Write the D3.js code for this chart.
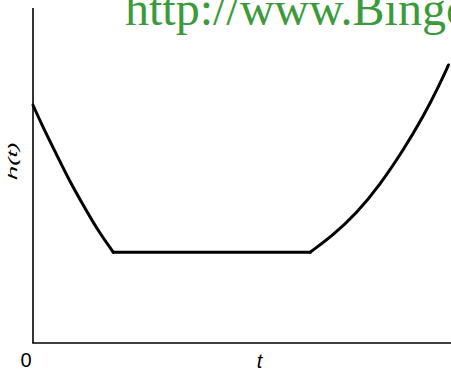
<!DOCTYPE html>
<html>
<head>
<meta charset="utf-8">
<script src="https://cdn.jsdelivr.net/npm/d3@7"></script>
<style>
  html, body { margin: 0; padding: 0; background: #fff; overflow: hidden; }
  svg { display: block; }
</style>
</head>
<body>
<script>
// bathtub curve (t and h in arbitrary units)
var earlyT = [0, 0.25, 0.57, 0.885, 1.2, 1.52, 1.92];
var earlyH = [7.1, 6.41, 5.61, 4.81, 4.12, 3.42, 2.71];
var flatT = [1.92, 6.63];
var flatH = [2.71, 2.71];
var wearT = [6.63, 7.18, 7.74, 8.3, 8.86, 9.34, 9.74, 9.94];
var wearH = [2.71, 3.22, 3.87, 4.72, 5.76, 6.76, 7.75, 8.3];

var xLabel = "t", yLabel = "h(t)", originLabel = "0";
var watermark = "http://www.BingoDocs.com";

var width = 451,
    height = 373;

var svg = d3.select("body").append("svg")
    .attr("width", width)
    .attr("height", height);

var x = d3.scaleLinear().domain([0, 10]).range([33, 451]);
var y = d3.scaleLinear().domain([0, 10]).range([343, 8]);

var line = d3.line()
    .x(function(d) { return x(d[0]); })
    .y(function(d) { return y(d[1]); })
    .curve(d3.curveBasis);

function pairs(ts, hs) { return ts.map(function(t, i) { return [t, hs[i]]; }); }

// axes: plain lines, no ticks
svg.append("line")
    .attr("x1", x(0)).attr("x2", x(0))
    .attr("y1", y(10)).attr("y2", y(0))
    .attr("stroke", "#000").attr("stroke-width", 1.6);
svg.append("line")
    .attr("x1", x(0) - 0.8).attr("x2", x(10))
    .attr("y1", y(0)).attr("y2", y(0))
    .attr("stroke", "#000").attr("stroke-width", 1.6);

// the three phases of the curve
[pairs(earlyT, earlyH), pairs(flatT, flatH), pairs(wearT, wearH)].forEach(function(seg) {
  svg.append("path")
      .datum(seg)
      .attr("d", line)
      .attr("fill", "none")
      .attr("stroke", "#000")
      .attr("stroke-width", 3)
      .attr("stroke-linejoin", "round")
      .attr("stroke-linecap", "round");
});

// labels
svg.append("text")
    .attr("x", 26).attr("y", 367)
    .attr("text-anchor", "middle")
    .style("font-family", "Liberation Sans, Arial, sans-serif")
    .style("font-size", "20px")
    .text(originLabel);

svg.append("text")
    .attr("x", 259.5).attr("y", 368)
    .attr("text-anchor", "middle")
    .style("font-family", "Liberation Sans, Arial, sans-serif")
    .style("font-size", "20px")
    .style("font-style", "italic")
    .text(xLabel);

svg.append("text")
    .attr("transform", "translate(17,161) rotate(-90)")
    .attr("text-anchor", "middle")
    .attr("textLength", 38)
    .attr("lengthAdjust", "spacingAndGlyphs")
    .style("font-family", "Liberation Sans, Arial, sans-serif")
    .style("font-size", "13px")
    .style("font-style", "italic")
    .text(yLabel);

svg.append("text")
    .attr("x", 125).attr("y", 25)
    .style("font-family", "Liberation Serif, Times New Roman, serif")
    .style("font-size", "48px")
    .style("fill", "#3b9b3b")
    .text(watermark);
</script>
</body>
</html>
